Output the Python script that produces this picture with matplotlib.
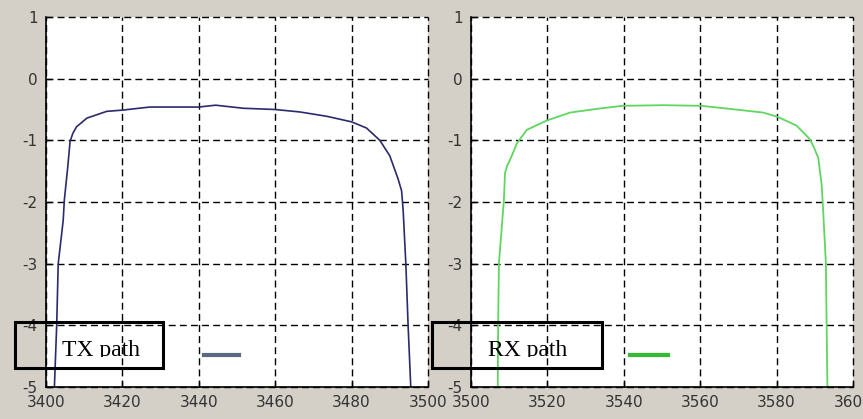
import matplotlib
matplotlib.use('Agg')
import matplotlib.pyplot as plt
from matplotlib.patches import Rectangle
from matplotlib.transforms import Bbox, TransformedBbox

plt.rcParams['axes.unicode_minus'] = False

# TX path response
tx_freq = [3402.2, 3402.8, 3403.2, 3404.5, 3404.8, 3405.7, 3406.3, 3407.0, 3408.0, 3410.7,
           3415.9, 3420.0, 3427.2, 3440.0, 3444.4, 3451.7, 3460.0, 3466.5, 3473.5, 3480.0,
           3483.9, 3487.4, 3490.0, 3492.2, 3493.1, 3493.5, 3494.2, 3494.8, 3495.5]
tx_gain = [-5.0, -4.0, -3.0, -2.3, -1.97, -1.43, -1.02, -0.89, -0.78, -0.64,
           -0.53, -0.51, -0.46, -0.46, -0.43, -0.48, -0.50, -0.54, -0.61, -0.70,
           -0.80, -1.00, -1.25, -1.63, -1.82, -2.13, -2.99, -4.0, -5.0]

# RX path response
rx_freq = [3507.0, 3507.1, 3507.3, 3508.4, 3508.6, 3508.9, 3509.4, 3510.2, 3512.0, 3514.6,
           3519.8, 3525.9, 3532.9, 3539.7, 3550.3, 3560.2, 3567.8, 3576.5, 3580.3, 3585.2,
           3588.7, 3589.8, 3590.9, 3591.8, 3592.2, 3592.9, 3593.1, 3593.3]
rx_gain = [-5.0, -4.0, -3.0, -2.13, -1.97, -1.53, -1.42, -1.32, -1.05, -0.83,
           -0.68, -0.55, -0.49, -0.44, -0.43, -0.44, -0.49, -0.55, -0.62, -0.76,
           -0.98, -1.12, -1.28, -1.72, -2.15, -2.99, -4.0, -5.0]

y_ticks = [-5, -4, -3, -2, -1, 0, 1]
tx_ticks = [3400, 3420, 3440, 3460, 3480, 3500]
rx_ticks = [3500, 3520, 3540, 3560, 3580, 3600]

# legend sample segments
tx_key_x = [3441.4, 3450.6]
rx_key_x = [3541.6, 3551.6]
key_y = [-4.48, -4.48]

BG = '#d4d0c8'
TX_COLOR = '#2a2a6e'
RX_COLOR = '#5fd65f'

fig = plt.figure(figsize=(8.63, 4.19), dpi=100)
fig.patch.set_facecolor(BG)


def setup_axes(ax, xticks):
    ax.set_xlim(xticks[0], xticks[-1])
    ax.set_ylim(-5, 1)
    ax.set_xticks(xticks)
    ax.set_yticks(y_ticks)
    ax.set_facecolor('white')
    ax.grid(True, color='black', linestyle=(0, (5, 3)), linewidth=1.0)
    for line in ax.get_xgridlines() + ax.get_ygridlines():
        line.set_clip_on(False)
    for side in ['top', 'right']:
        ax.spines[side].set_visible(False)
    for side in ['left', 'bottom']:
        ax.spines[side].set_linewidth(1.2)
        ax.spines[side].set_zorder(3)
    ax.tick_params(direction='in', length=4, width=1, labelsize=11,
                   labelcolor='#333333', pad=6)


ax1 = fig.add_axes([0.0533, 0.0764, 0.4426, 0.883])
setup_axes(ax1, tx_ticks)
ax1.plot(tx_freq, tx_gain, color=TX_COLOR, linewidth=1.2)
ax1.plot(tx_key_x, key_y, color='#5a6a80', linewidth=3)

ax2 = fig.add_axes([0.5458, 0.0764, 0.4426, 0.883])
setup_axes(ax2, rx_ticks)
ax2.plot(rx_freq, rx_gain, color=RX_COLOR, linewidth=1.3)
ax2.plot(rx_key_x, key_y, color='#33bb33', linewidth=3)

# Legend-like boxes drawn over the figure; the labels lose their descenders
for x0, w, label, tx in [(0.0174, 0.1715, 'TX path', 0.0715),
                         (0.5006, 0.197, 'RX path', 0.5658)]:
    fig.patches.append(Rectangle((x0, 0.1217), w, 0.1098, transform=fig.transFigure,
                                 fill=False, edgecolor='black', linewidth=2.2))
    t = fig.text(tx, 0.1510, label, family='Liberation Serif', fontsize=17,
                 color='black', va='baseline')
    t.set_clip_box(TransformedBbox(Bbox([[x0, 0.1487], [x0 + w, 0.23]]),
                                   fig.transFigure))
    t.set_clip_on(True)

fig.savefig('out.png', dpi=100, facecolor=BG)
